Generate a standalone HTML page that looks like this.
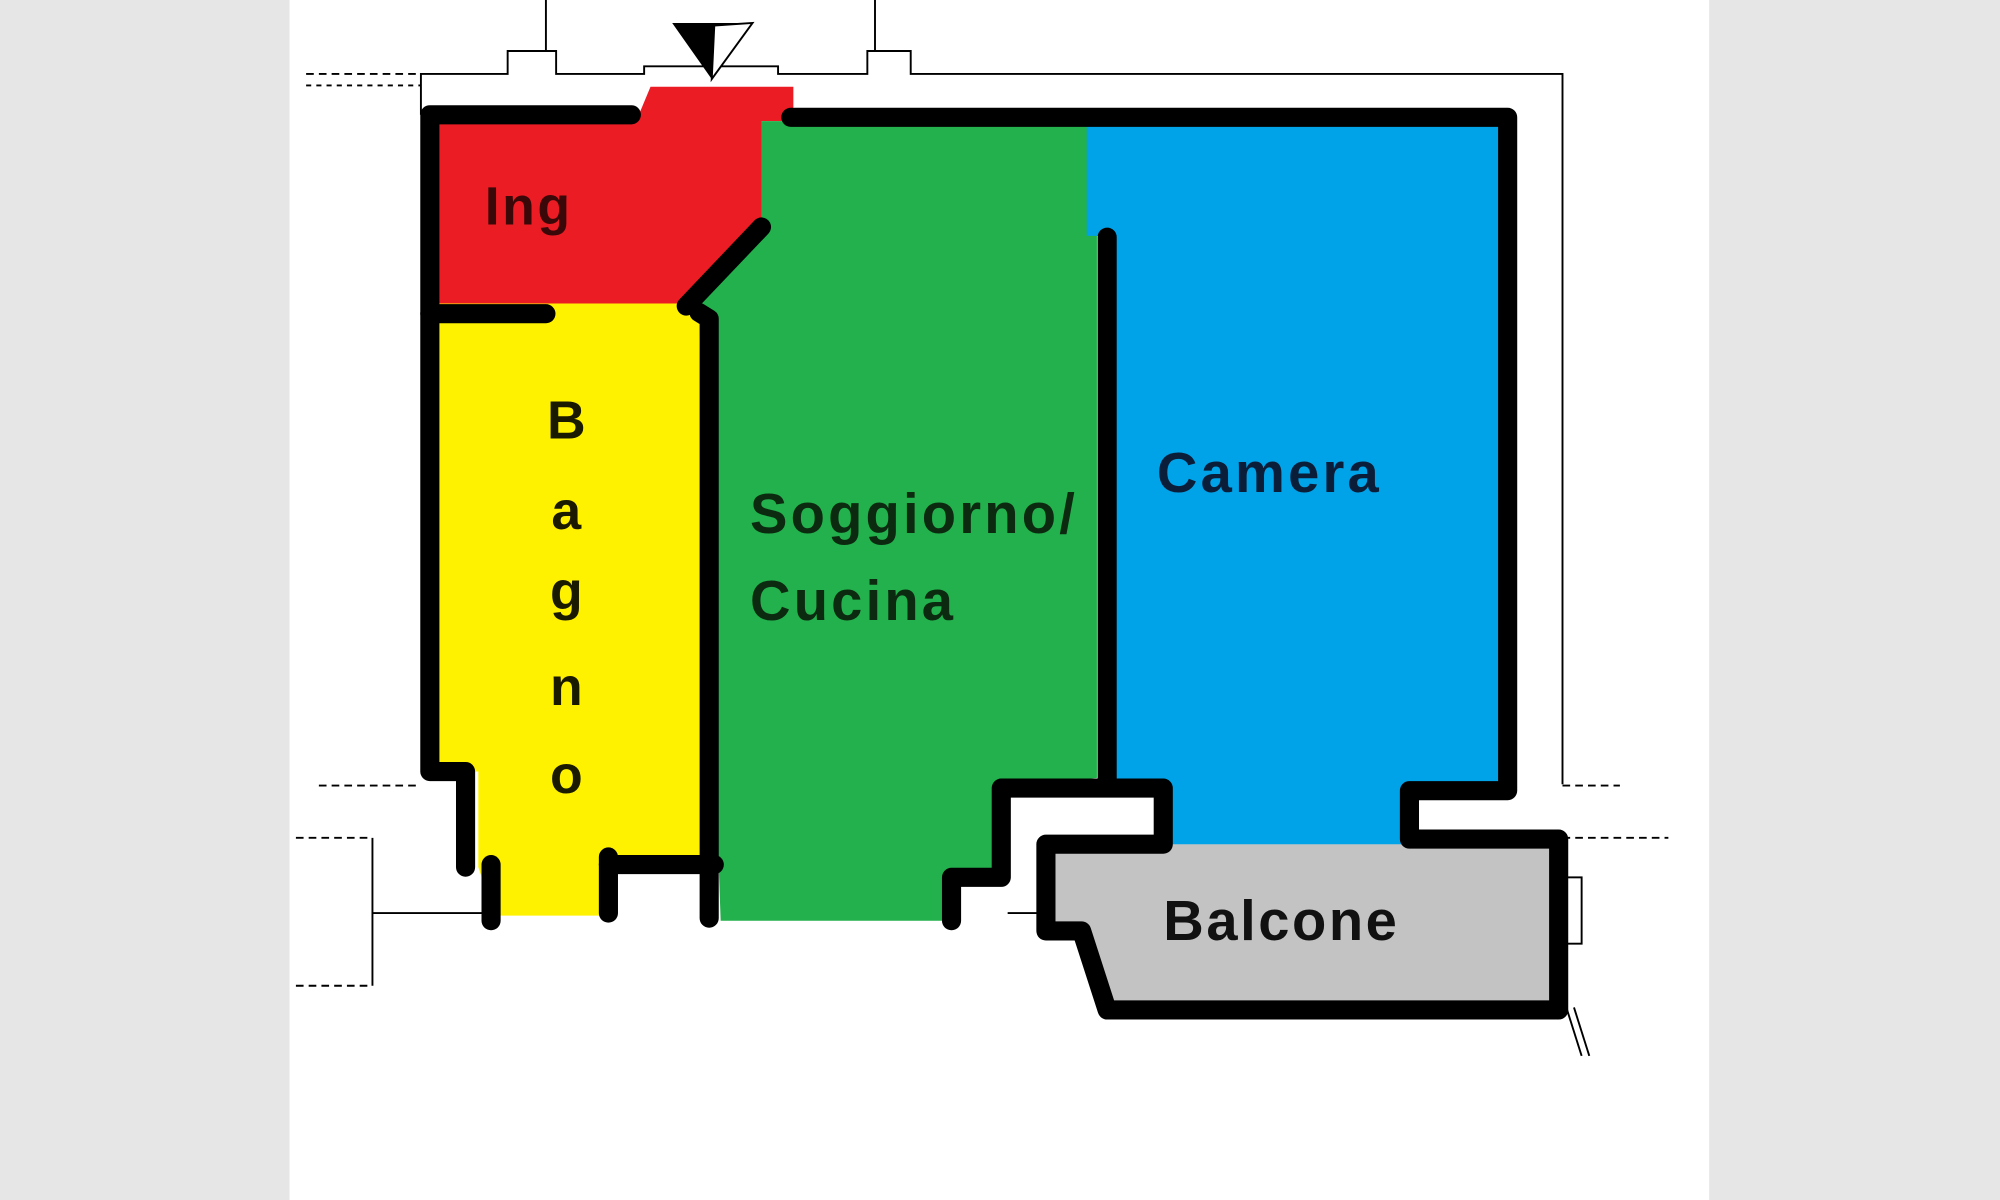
<!DOCTYPE html>
<html><head><meta charset="utf-8"><style>
html,body{margin:0;padding:0;background:#e6e6e6;}
svg{display:block}
text{font-family:"Liberation Sans","DejaVu Sans",sans-serif;font-weight:bold;}
</style></head><body>
<svg width="2000" height="1200" viewBox="0 0 1568 941" preserveAspectRatio="none" xmlns="http://www.w3.org/2000/svg">
<rect x="0" y="0" width="1568" height="941" fill="#e6e6e6"/>
<rect x="227" y="0" width="1113" height="941" fill="#ffffff"/>
<g stroke="#000" stroke-width="1.5" fill="none">
<polyline points="330,90 330,58 398,58 398,40 415,40 428,40 428,0"/>
<polyline points="428,40 436,40 436,58 505,58 505,52 610,52 610,58 680,58 680,40 686,40 686,0"/>
<polyline points="686,40 714,40 714,58 1225,58 1225,615"/>
<line x1="240" y1="58" x2="330" y2="58" stroke-dasharray="6,4"/>
<line x1="240" y1="67" x2="330" y2="67" stroke-dasharray="4,4"/>
<line x1="250" y1="616" x2="330" y2="616" stroke-dasharray="6,4"/>
<line x1="232" y1="657" x2="292" y2="657" stroke-dasharray="6,4"/>
<line x1="232" y1="773" x2="292" y2="773" stroke-dasharray="6,4"/>
<polyline points="292,657 292,773"/>
<line x1="292" y1="716" x2="385" y2="716"/>
<line x1="1225" y1="616" x2="1270" y2="616" stroke-dasharray="6,4"/>
<line x1="1225" y1="657" x2="1308" y2="657" stroke-dasharray="6,4"/>
<rect x="1228" y="688" width="12" height="52"/>
<line x1="1228" y1="790" x2="1240" y2="828"/>
<line x1="1234" y1="790" x2="1246" y2="828"/>
<line x1="790" y1="716" x2="830" y2="716"/>
</g>
<polygon points="527,18 590,18 558,62" fill="#000"/>
<polygon points="560,20 590,18 558,62" fill="#fff" stroke="#000" stroke-width="1.5"/>
<polygon points="340,92 500,92 510,68 622,68 622,95 597,95 597,180 540,240 340,240" fill="#ec1c24"/>
<polygon points="597,95 860,95 860,610 785,618 785,690 740,690 740,722 565,722 548,245 540,240 597,178" fill="#22b14c"/>
<polygon points="852,95 1178,95 1178,618 1105,618 1105,668 912,668 912,615 875,615 875,185 852,185" fill="#00a2e8"/>
<polygon points="335,238 548,238 555,672 472,672 472,718 388,718 375,680 375,605 335,605" fill="#fff200"/>
<polygon points="825,662 1222,662 1222,790 870,790 850,730 825,730" fill="#c3c3c3"/>
<g stroke="#000" stroke-width="15" fill="none" stroke-linecap="round" stroke-linejoin="round">
<polyline points="495,90 337,90 337,240 337,605 365,605 365,680"/>
<line x1="337" y1="246" x2="428" y2="246"/>
<polyline points="620,92 1182,92 1182,620 1105,620 1105,658 1222,658 1222,792 868,792 848,730 820,730 820,662 912,662 912,618 785,618 785,688 746,688 746,722"/>
<line x1="868" y1="186" x2="868" y2="612"/>
<polyline points="538,240 597,178"/>
<polyline points="548,245 556,250 556,720"/>
<polyline points="477,672 477,716"/>
<line x1="477" y1="678" x2="560" y2="678"/>
<line x1="385" y1="678" x2="385" y2="722"/>
</g>
<text x="380" y="176" font-size="42" fill="#3a0808" letter-spacing="2">Ing</text>
<g font-size="42" fill="#1a1a00" text-anchor="middle">
<text x="444" y="344">B</text>
<text x="444" y="415">a</text>
<text x="444" y="478">g</text>
<text x="444" y="553">n</text>
<text x="444" y="622">o</text>
</g>
<text x="588" y="418" font-size="44" fill="#0b2a10" letter-spacing="2.5">Soggiorno/</text>
<text x="588" y="486" font-size="44" fill="#0b2a10" letter-spacing="2.5">Cucina</text>
<text x="907" y="386" font-size="44" fill="#0a1e3a" letter-spacing="2.5">Camera</text>
<text x="912" y="737" font-size="44" fill="#111" letter-spacing="2">Balcone</text>
</svg>
</body></html>
